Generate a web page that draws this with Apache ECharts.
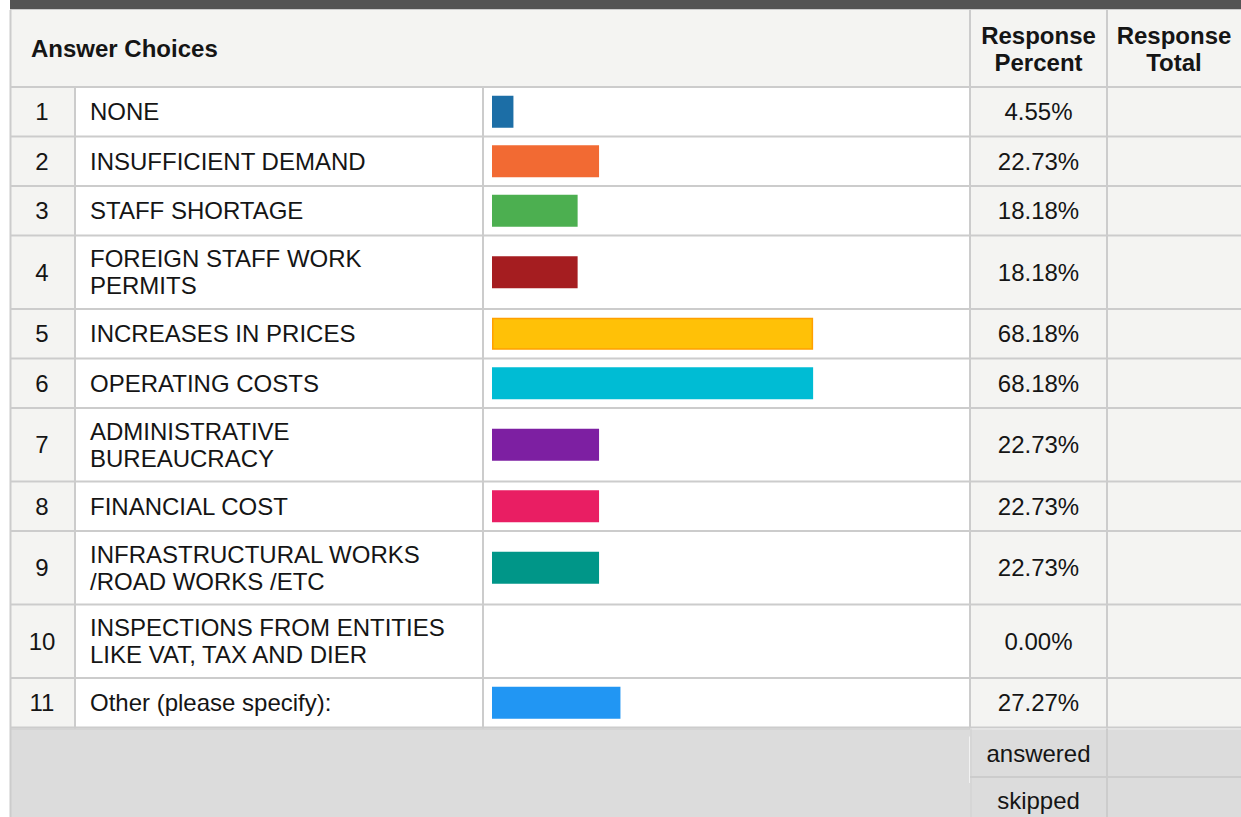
<!DOCTYPE html>
<html>
<head>
<meta charset="utf-8">
<title>Answer Choices</title>
<script src="https://cdn.jsdelivr.net/npm/echarts@6/dist/echarts.min.js"></script>
<style>
  html, body { margin: 0; padding: 0; background: #ffffff; }
  #chart { width: 1241px; height: 817px; }
</style>
</head>
<body>
<div id="chart"></div>
<script>
// ---- data ----
const rowNumbers = ['1', '2', '3', '4', '5', '6', '7', '8', '9', '10', '11'];
const answerChoices = [
  'NONE',
  'INSUFFICIENT DEMAND',
  'STAFF SHORTAGE',
  'FOREIGN STAFF WORK\nPERMITS',
  'INCREASES IN PRICES',
  'OPERATING COSTS',
  'ADMINISTRATIVE\nBUREAUCRACY',
  'FINANCIAL COST',
  'INFRASTRUCTURAL WORKS\n/ROAD WORKS /ETC',
  'INSPECTIONS FROM ENTITIES\nLIKE VAT, TAX AND DIER',
  'Other (please specify):'
];
const responsePercent = [4.55, 22.73, 18.18, 18.18, 68.18, 68.18, 22.73, 22.73, 22.73, 0.00, 27.27];
const headerTitle = 'Answer Choices';
const headerPercent = 'Response\nPercent';
const headerTotal = 'Response\nTotal';
const footerLabels = ['answered', 'skipped'];

// ---- styles ----
const barColors = ['#1c6ea6', '#f26a33', '#4caf50', '#a51d20', '#ffc107', '#00bcd4',
                   '#7d1fa2', '#e91e63', '#009688', '#9e9e9e', '#2196f3'];
const barBorders = [null, null, null, null, '#ffa000', null, null, null, null, null, null];
const FONT = '"Liberation Sans", Arial, Helvetica, sans-serif';
const TEXT = '#151515';
const LINE = '#cccccc';
const CELL_GREY = '#f4f4f2';
const FOOT_GREY = '#dcdcdc';

// ---- table layout ----
const W = 1241, H = 817;
const LEFT = 10;                       // outer left edge of the table
const COL = { num: 75, label: 483, bar: 970, pct: 1107 };   // column separators
const HEAD_TOP = 10, BODY_TOP = 88;
const ROW_PAD = 25.5, LINE_STEP = 24;  // row height = padding + lines * step
const BAR_H = 32;
const BAR_LEFT = 492, BAR_FULL = 471;  // 0 % .. 100 % span of the bar column

const rowHeights = answerChoices.map(t => ROW_PAD + t.split('\n').length * LINE_STEP);
const rowTops = [];
let acc = 0;
rowHeights.forEach(h => { rowTops.push(acc); acc += h; });
const BODY_H = acc;
const rowCenters = rowTops.map((t, i) => t + (rowHeights[i] - 2) / 2);
const FOOT_TOP = BODY_TOP + BODY_H;
const FOOT_MID = FOOT_TOP + 48.5;

function rect(x, y, w, h, fill, z) {
  return { type: 'rect', silent: true, z: z || 0, shape: { x, y, width: w, height: h }, style: { fill } };
}
function hline(x1, x2, y, color, width) {
  return { type: 'line', silent: true, z: 3, shape: { x1, y1: y, x2, y2: y }, style: { stroke: color, lineWidth: width } };
}
function vline(x, y1, y2, color, width) {
  return { type: 'line', silent: true, z: 3, shape: { x1: x, y1, x2: x, y2 }, style: { stroke: color, lineWidth: width } };
}
function text(str, x, y, align, bold) {
  return {
    type: 'text', silent: true, z: 10, x, y,
    style: {
      text: str, fill: TEXT, align, verticalAlign: 'middle',
      font: (bold ? 'bold ' : '') + '24px ' + FONT, lineHeight: 27
    }
  };
}

const g = [];
// title strip and header
g.push(rect(LEFT, 0, W - LEFT, 9, '#545454'));
g.push(rect(LEFT, 9, W - LEFT, BODY_TOP - 9, CELL_GREY));
g.push(hline(LEFT, W, 9.5, LINE, 1));
g.push(hline(LEFT, W, 87, LINE, 2));
g.push(vline(COL.bar, HEAD_TOP, BODY_TOP, LINE, 2));
g.push(vline(COL.pct, HEAD_TOP, BODY_TOP, LINE, 2));
g.push(text(headerTitle, 31, 48, 'left', true));
g.push(text(headerPercent, (COL.bar + COL.pct) / 2, 49, 'center', true));
g.push(text(headerTotal, (COL.pct + W) / 2, 49, 'center', true));

// body rows
rowNumbers.forEach((n, i) => {
  const top = BODY_TOP + rowTops[i];
  const h = rowHeights[i];
  const cy = BODY_TOP + rowCenters[i];
  g.push(rect(LEFT, top, COL.num - LEFT, h, CELL_GREY));
  g.push(rect(COL.num, top, COL.bar - COL.num, h, '#ffffff'));
  g.push(rect(COL.bar, top, W - COL.bar, h, CELL_GREY));
  g.push(hline(LEFT, W, top + h - 1, LINE, 2));
  g.push(text(n, 42, cy, 'center', false));
  g.push(text(answerChoices[i], 90, cy, 'left', false));
  g.push(text(responsePercent[i].toFixed(2) + '%', (COL.bar + COL.pct) / 2, cy, 'center', false));
});
g.push(vline(LEFT + 0.5, HEAD_TOP, H, LINE, 2));
g.push(vline(COL.num, BODY_TOP, FOOT_TOP, LINE, 2));
g.push(vline(COL.label, BODY_TOP, FOOT_TOP, LINE, 2));
g.push(vline(COL.bar, BODY_TOP, FOOT_TOP, LINE, 2));
g.push(vline(COL.pct, BODY_TOP, FOOT_TOP, LINE, 2));

// footer
g.push(rect(LEFT, FOOT_TOP, W - LEFT, H - FOOT_TOP, FOOT_GREY));
g.push(hline(LEFT, COL.bar, FOOT_TOP + 0.5, LINE, 1));
g.push(hline(COL.bar, W, FOOT_TOP + 0.5, '#ececec', 1));
g.push(vline(COL.bar - 0.5, FOOT_TOP + 8, FOOT_MID + 6, '#f2f2f2', 1));
g.push(vline(COL.bar + 1, FOOT_TOP, H, '#d0d0d0', 1));
g.push(vline(COL.pct, FOOT_TOP, H, LINE, 2));
g.push(hline(COL.bar, W, FOOT_MID, LINE, 2));
g.push(text(footerLabels[0], (COL.bar + COL.pct) / 2, (FOOT_TOP + FOOT_MID) / 2 + 1, 'center', false));
g.push(text(footerLabels[1], (COL.bar + COL.pct) / 2, (FOOT_MID + H) / 2 + 3, 'center', false));

const chart = echarts.init(document.getElementById('chart'), null, { renderer: 'svg', width: W, height: H });
chart.setOption({
  animation: false,
  backgroundColor: '#ffffff',
  graphic: { elements: g },
  grid: { left: BAR_LEFT, top: BODY_TOP, width: BAR_FULL, height: BODY_H, containLabel: false, show: false },
  xAxis: { type: 'value', min: 0, max: 100, show: false },
  yAxis: { type: 'value', min: 0, max: BODY_H, inverse: true, show: false },
  series: [{
    type: 'custom',
    coordinateSystem: 'cartesian2d',
    silent: true,
    z: 5,
    clip: false,
    encode: { x: 0, y: 1 },
    data: responsePercent.map((v, i) => [v, rowCenters[i], i]),
    renderItem(params, api) {
      const v = api.value(0), yc = api.value(1), i = api.value(2);
      const p0 = api.coord([0, yc]);
      const p1 = api.coord([v, yc]);
      const h = api.size([0, BAR_H])[1];
      const w = p1[0] - p0[0];
      if (w <= 0) return null;
      const border = barBorders[i];
      const inset = border ? 0.75 : 0;
      return {
        type: 'rect',
        shape: { x: p0[0] + inset, y: p0[1] - h / 2 + inset, width: w - 2 * inset, height: h - 2 * inset },
        style: border ? { fill: barColors[i], stroke: border, lineWidth: 1.5 } : { fill: barColors[i] }
      };
    }
  }]
});
</script>
</body>
</html>
